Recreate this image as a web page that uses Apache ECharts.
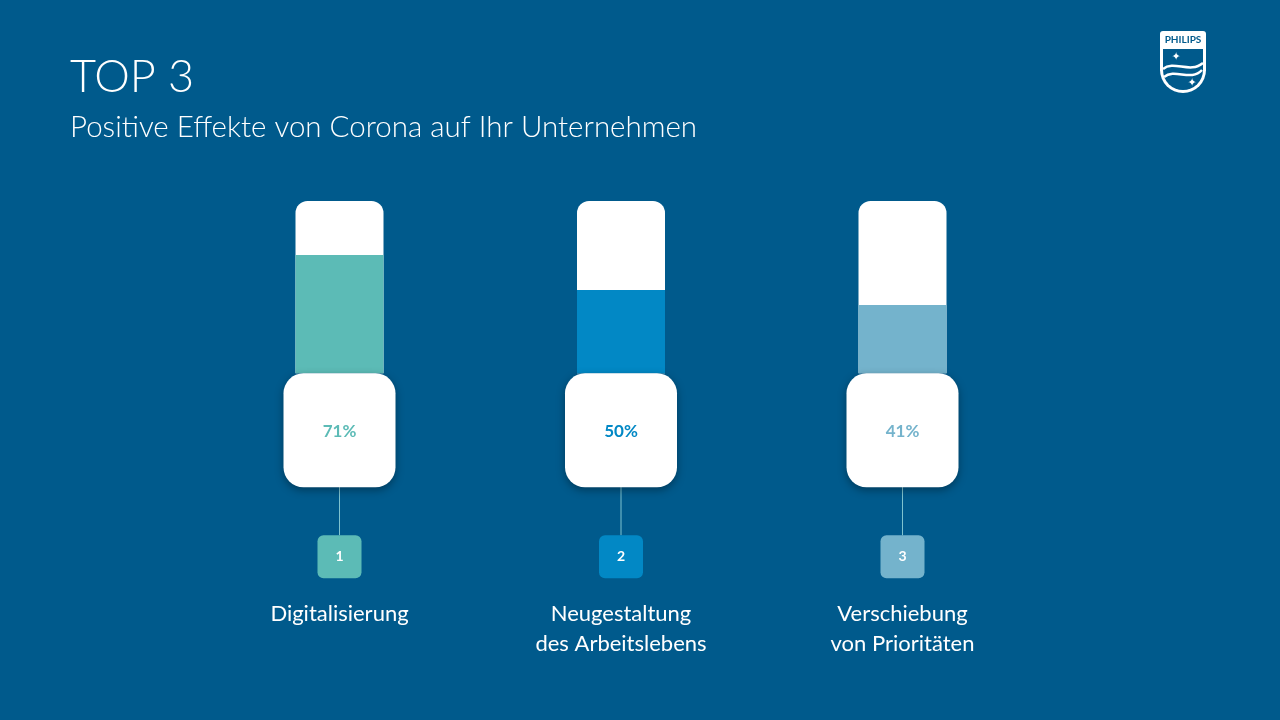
<!DOCTYPE html>
<html>
<head>
<meta charset="utf-8">
<script src="https://cdn.jsdelivr.net/npm/echarts@6/dist/echarts.min.js"></script>
<style>
  html, body { margin: 0; padding: 0; background: #005A8C; }
  #chart { width: 1280px; height: 720px; }
</style>
</head>
<body>
<div id="chart"></div>
<script>
// data
const categories = ['Digitalisierung', 'Neugestaltung\ndes Arbeitslebens', 'Verschiebung\nvon Prioritäten'];
const shares = [71, 50, 41];
const ranks = ['1', '2', '3'];
const tubeMax = 103.4;

const colors = ['#5CBBB6', '#0288C5', '#74B3CC'];
const bg = '#005A8C';

function renderBulb(params, api) {
    const idx = api.value(0);
    const pt = api.coord([idx, 0]);
    const x = pt[0], y0 = pt[1];
    const c = colors[idx];
    return {
        type: 'group',
        children: [
            {
                type: 'line',
                shape: { x1: x, y1: y0 + 110, x2: x, y2: y0 + 162 },
                style: { stroke: '#7FC3CF', lineWidth: 1 }
            },
            {
                type: 'rect',
                shape: { x: x - 56, y: y0, width: 112, height: 114, r: 20 },
                style: { fill: '#fff', shadowBlur: 8, shadowOffsetY: 3, shadowColor: 'rgba(0,0,0,0.35)' }
            },
            {
                type: 'text',
                x: x, y: y0 + 58,
                style: {
                    text: api.value(1) + '%', fill: c, font: 'bold 17px Lato',
                    align: 'center', verticalAlign: 'middle'
                }
            },
            {
                type: 'rect',
                shape: { x: x - 22, y: y0 + 162, width: 44, height: 43, r: 6 },
                style: { fill: c }
            },
            {
                type: 'text',
                x: x, y: y0 + 183.5,
                style: {
                    text: ranks[idx], fill: '#fff', font: 'bold 14px Lato',
                    align: 'center', verticalAlign: 'middle'
                }
            }
        ]
    };
}

const chart = echarts.init(document.getElementById('chart'));
chart.setOption({
    backgroundColor: bg,
    animation: false,
    grid: { left: 198.75, right: 236.75, top: 201, bottom: 346.7 },
    xAxis: {
        type: 'category',
        data: categories,
        axisLine: { show: false },
        axisTick: { show: false },
        axisLabel: {
            color: '#fff', fontSize: 22, lineHeight: 30, margin: 226,
            fontFamily: 'Lato', interval: 0
        }
    },
    yAxis: { type: 'value', min: 0, max: tubeMax, show: false },
    series: [
        {
            type: 'bar',
            silent: true,
            barWidth: 88,
            barGap: '-100%',
            data: categories.map(() => tubeMax),
            itemStyle: { color: '#fff', borderRadius: [12, 12, 0, 0] },
            z: 1
        },
        {
            type: 'bar',
            barWidth: 88,
            barGap: '-100%',
            data: shares.map((v, i) => ({ value: v, itemStyle: { color: colors[i] } })),
            z: 2
        },
        {
            type: 'custom',
            renderItem: renderBulb,
            data: shares.map((v, i) => [i, v]),
            z: 3
        }
    ],
    graphic: [
        {
            type: 'text', x: 70, y: 55,
            style: { text: 'TOP 3', fill: '#fff', font: '300 45px Lato' }
        },
        {
            type: 'text', x: 70, y: 112,
            style: { text: 'Positive Effekte von Corona auf Ihr Unternehmen', fill: '#fff', font: '300 29.5px Lato' }
        },
        // logo
        { type: 'rect', shape: { x: 1160, y: 31, width: 46, height: 40, r: [3, 3, 0, 0] }, style: { fill: '#fff' } },
        { type: 'circle', shape: { cx: 1183, cy: 70, r: 23 }, style: { fill: '#fff' } },
        { type: 'rect', shape: { x: 1163, y: 49, width: 40, height: 21 }, style: { fill: bg } },
        { type: 'circle', shape: { cx: 1183, cy: 70, r: 20 }, style: { fill: bg } },
        {
            type: 'text', x: 1183, y: 40,
            style: { text: 'PHILIPS', fill: bg, font: 'bold 10px Lato', align: 'center', verticalAlign: 'middle' }
        },
        {
            type: 'bezierCurve',
            shape: { x1: 1163, y1: 69, cpx1: 1174, cpy1: 60, cpx2: 1190, cpy2: 74, x2: 1203, y2: 63 },
            style: { stroke: '#fff', lineWidth: 2.5, fill: null }
        },
        {
            type: 'bezierCurve',
            shape: { x1: 1164, y1: 77, cpx1: 1175, cpy1: 68, cpx2: 1191, cpy2: 82, x2: 1202, y2: 70 },
            style: { stroke: '#fff', lineWidth: 2.5, fill: null }
        },
        {
            type: 'text', x: 1176, y: 57,
            style: { text: '✦', fill: '#fff', font: '11px DejaVu Sans', align: 'center', verticalAlign: 'middle' }
        },
        {
            type: 'text', x: 1192, y: 83,
            style: { text: '✦', fill: '#fff', font: '11px DejaVu Sans', align: 'center', verticalAlign: 'middle' }
        }
    ]
});
</script>
</body>
</html>
